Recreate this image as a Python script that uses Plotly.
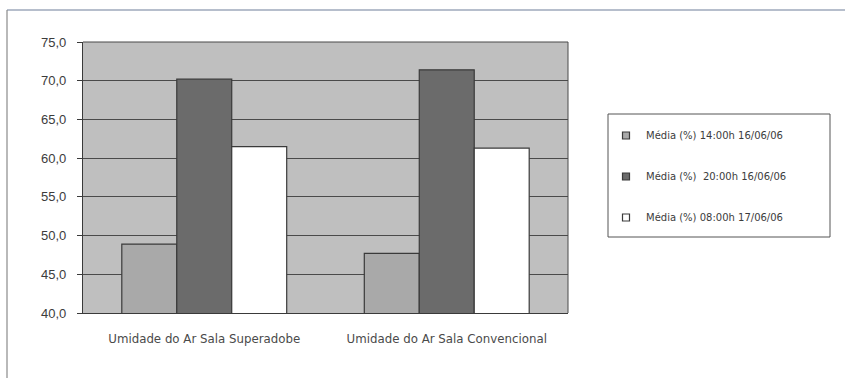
import plotly.graph_objects as go

categories = ["Umidade do Ar Sala Superadobe", "Umidade do Ar Sala Convencional"]
series_names = [
    "Média (%) 14:00h 16/06/06",
    "Média (%)  20:00h 16/06/06",
    "Média (%) 08:00h 17/06/06",
]
media_14h = [48.9, 47.7]
media_20h = [70.2, 71.4]
media_08h = [61.5, 61.3]
series_values = [media_14h, media_20h, media_08h]
series_colors = ["#a9a9a9", "#6b6b6b", "#ffffff"]
y_ticks = [40, 45, 50, 55, 60, 65, 70, 75]

EDGE = "#3a3a3a"

fig = go.Figure()
for i, (name, vals, col) in enumerate(zip(series_names, series_values, series_colors)):
    # bars themselves
    fig.add_trace(go.Bar(
        x=categories, y=vals, name=name, showlegend=False,
        marker=dict(color=col, line=dict(color=EDGE, width=1.2)),
    ))
    # small square key for the legend
    fig.add_trace(go.Scatter(
        x=[None], y=[None], mode="markers", name=name, legendgroup=f"g{i}",
        marker=dict(symbol="square", size=7, color=col, line=dict(color=EDGE, width=1.2)),
    ))

fig.update_layout(
    width=845, height=378,
    margin=dict(l=83, r=277, t=42, b=65),
    paper_bgcolor="white",
    plot_bgcolor="#bfbfbf",
    separators=",.",
    barmode="group",
    bargap=0.32,
    bargroupgap=0,
    font=dict(family="Liberation Sans, Arial, sans-serif", color="#3c3c3c", size=11),
    showlegend=True,
    legend=dict(
        xref="container", yref="container",
        x=606 / 845, y=1 - 121 / 378, xanchor="left", yanchor="top",
        borderwidth=0, bgcolor="rgba(0,0,0,0)",
        font=dict(family="DejaVu Sans, sans-serif", size=10, color="#3c3c3c"),
        tracegroupgap=22, traceorder="grouped",
        itemwidth=30,
    ),
    xaxis=dict(
        showgrid=False, showline=True, linecolor=EDGE, linewidth=1.2,
        ticks="", ticklabelstandoff=15,
        tickfont=dict(family="DejaVu Sans, sans-serif", size=11.8, color="#4a4a4a"),
    ),
    yaxis=dict(
        range=[40, 75], tickvals=y_ticks, tickformat=".1f",
        showgrid=True, gridcolor="#4a4a4a", gridwidth=1,
        showline=True, linecolor=EDGE, linewidth=1.2,
        ticks="outside", ticklen=5, tickcolor=EDGE, ticklabelstandoff=8,
        tickfont=dict(size=13, color="#3c3c3c"),
        zeroline=False,
    ),
    shapes=[
        # plot-area frame top/right
        dict(type="line", xref="paper", yref="paper", x0=0, x1=1, y0=1, y1=1,
             line=dict(color="#4a4a4a", width=1.2)),
        dict(type="line", xref="paper", yref="paper", x0=1, x1=1, y0=0, y1=1,
             line=dict(color="#4a4a4a", width=1)),
        # legend box
        dict(type="rect", xref="paper", yref="paper",
             x0=(608 - 83) / 485, x1=(830 - 83) / 485,
             y0=(313 - 237) / 271, y1=(313 - 114) / 271,
             line=dict(color="#555555", width=1), fillcolor="rgba(0,0,0,0)"),
        # outer chart frame
        dict(type="line", xref="paper", yref="paper",
             x0=-76 / 485, x1=(845 - 83) / 485, y0=1 + 32 / 271, y1=1 + 32 / 271,
             line=dict(color="#6f7f99", width=1.2)),
        dict(type="line", xref="paper", yref="paper",
             x0=-76 / 485, x1=-76 / 485, y0=1 + 32 / 271, y1=-65 / 271,
             line=dict(color="#8a8a8a", width=1.2)),
    ],
)

fig.write_html("out.html")
